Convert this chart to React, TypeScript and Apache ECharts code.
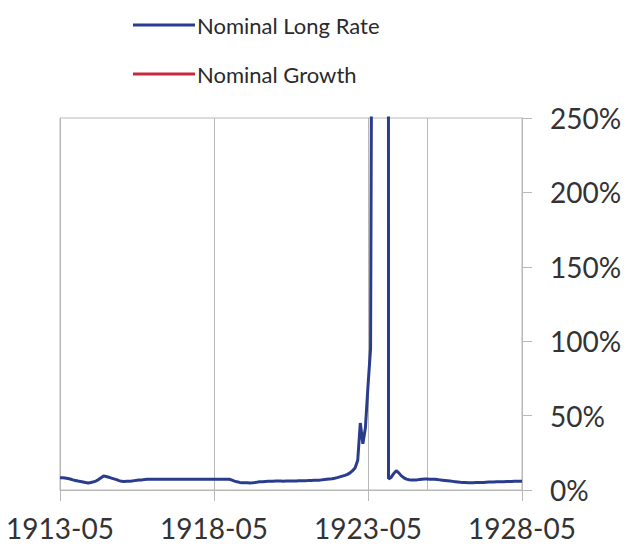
import React, { useEffect, useRef } from "react";
import * as echarts from "echarts";

// Monthly categories 1913-05 .. 1928-05
const startYear = 1913;
const startMonth = 5;
const monthCount = 181;
const months: string[] = [];
for (let k = 0; k < monthCount; k++) {
  const m = startMonth - 1 + k;
  const y = startYear + Math.floor(m / 12);
  const mm = (m % 12) + 1;
  months.push(`${y}-${mm < 10 ? "0" + mm : mm}`);
}

const tickLabels = ["1913-05", "1918-05", "1923-05", "1928-05"];
const extraGridLine = "1925-04";

// Nominal long rate, % (hyperinflation months run far off the top)
const nominalLongRate: number[] = [
  8.3, 8.2, 8.0, 7.7, 7.4, 6.8, 6.4, 6.0, 5.7, 5.4,
  5.0, 4.7, 5.0, 5.5, 6.0, 7.0, 8.2, 9.4, 9.1, 8.6,
  8.0, 7.5, 7.0, 6.3, 5.8, 5.7, 5.8, 5.9, 6.0, 6.3,
  6.5, 6.7, 6.8, 7.0, 7.2, 7.2, 7.2, 7.2, 7.2, 7.2,
  7.2, 7.2, 7.2, 7.2, 7.2, 7.2, 7.2, 7.2, 7.2, 7.2,
  7.2, 7.2, 7.2, 7.2, 7.2, 7.2, 7.2, 7.2, 7.2, 7.2,
  7.2, 7.2, 7.2, 7.2, 7.2, 7.2, 7.2, 6.6, 6.0, 5.5,
  5.1, 4.9, 4.8, 4.8, 4.7, 4.8, 5.0, 5.3, 5.5, 5.6,
  5.7, 5.8, 5.8, 5.9, 6.0, 6.0, 6.0, 5.9, 6.0, 6.1,
  6.0, 6.0, 6.1, 6.2, 6.2, 6.3, 6.3, 6.4, 6.4, 6.5,
  6.5, 6.6, 6.8, 7.0, 7.2, 7.4, 7.6, 7.9, 8.3, 8.8,
  9.3, 9.8, 10.5, 11.5, 13, 15, 20, 45, 31, 42,
  70, 95, 600, 2500, 6000, 9000, 12000, 9000, 7.5, 8.5,
  11, 13, 11.5, 9.5, 8.2, 7.3, 6.9, 6.7, 6.7, 6.8,
  7.0, 7.2, 7.4, 7.4, 7.3, 7.3, 7.2, 7.0, 6.8, 6.6,
  6.4, 6.2, 6.0, 5.8, 5.6, 5.4, 5.2, 5.1, 5.0, 4.9,
  4.9, 4.9, 5.0, 5.0, 5.1, 5.1, 5.2, 5.3, 5.4, 5.4,
  5.5, 5.5, 5.6, 5.6, 5.7, 5.7, 5.7, 5.8, 5.8, 5.8,
  5.8,
];

// Nominal growth: no visible values in this window
const nominalGrowth: (number | null)[] = [];

const yTicks = [0, 50, 100, 150, 200, 250];

const FONT = "Lato, 'Open Sans', sans-serif";
const GRID_GREY = "#b8b8b8";
const BLUE = "#2a3c8c";
const RED = "#c8283c";

export default function App() {
  const ref = useRef<HTMLDivElement>(null);
  useEffect(() => {
    if (!ref.current) return;
    const chart = echarts.init(ref.current, undefined, { renderer: "svg" });
    chart.setOption({
      animation: false,
      backgroundColor: "#ffffff",
      textStyle: { fontFamily: FONT },
      legend: {
        orient: "vertical",
        left: 128,
        top: 7,
        itemWidth: 62,
        itemHeight: 3,
        itemGap: 23,
        textStyle: {
          fontSize: 22,
          lineHeight: 26,
          color: "#2a2a2a",
          fontFamily: FONT,
          padding: [0, 0, 0, -3],
        },
        data: [
          { name: "Nominal Long Rate", icon: "rect", itemStyle: { color: BLUE } },
          { name: "Nominal Growth", icon: "rect", itemStyle: { color: RED } },
        ],
      },
      grid: {
        left: 60,
        right: 115,
        top: 118,
        bottom: 60,
        show: true,
        borderColor: GRID_GREY,
        borderWidth: 1,
        containLabel: false,
      },
      xAxis: {
        type: "category",
        data: months,
        boundaryGap: false,
        axisLine: { lineStyle: { color: GRID_GREY, width: 1 } },
        axisTick: {
          show: true,
          length: 11,
          lineStyle: { color: GRID_GREY },
          interval: (idx: number, val: string) => tickLabels.includes(val),
        },
        axisLabel: {
          interval: (idx: number, val: string) => tickLabels.includes(val),
          fontSize: 28,
          color: "#333",
          margin: 24,
          fontFamily: FONT,
        },
        splitLine: {
          show: true,
          interval: (idx: number, val: string) => tickLabels.includes(val),
          lineStyle: { color: GRID_GREY, width: 1 },
        },
      },
      yAxis: {
        type: "value",
        position: "right",
        min: yTicks[0],
        max: yTicks[yTicks.length - 1],
        interval: 50,
        axisLine: { show: true, lineStyle: { color: GRID_GREY } },
        axisTick: { show: true, inside: false, length: 10, lineStyle: { color: GRID_GREY } },
        axisLabel: {
          formatter: "{value}%",
          fontSize: 28,
          color: "#333",
          margin: 28,
          fontFamily: FONT,
        },
        splitLine: { show: false },
      },
      series: [
        {
          name: "Nominal Long Rate",
          type: "line",
          data: nominalLongRate,
          symbol: "none",
          clip: true,
          lineStyle: { color: BLUE, width: 3 },
          itemStyle: { color: BLUE },
          z: 3,
          markLine: {
            silent: true,
            symbol: ["none", "none"],
            label: { show: false },
            lineStyle: { color: GRID_GREY, width: 1, type: "solid" },
            data: [{ xAxis: extraGridLine }],
            z: 1,
          },
        },
        {
          name: "Nominal Growth",
          type: "line",
          data: nominalGrowth,
          symbol: "none",
          lineStyle: { color: RED, width: 3 },
          itemStyle: { color: RED },
        },
      ],
    });
    return () => chart.dispose();
  }, []);
  return <div ref={ref} style={{ width: 637, height: 550, margin: -8 }} />;
}
